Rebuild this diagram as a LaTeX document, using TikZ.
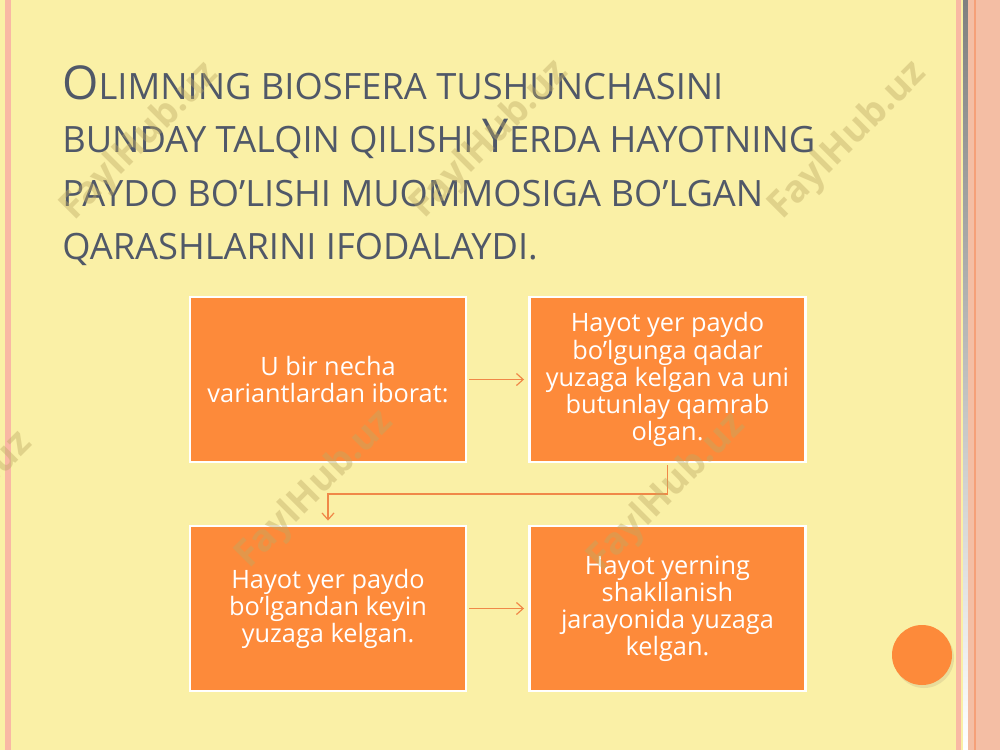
\documentclass[tikz,border=0pt]{standalone}
\usepackage{fontspec}
\setmainfont{Open Sans}
\usetikzlibrary{arrows.meta}
\definecolor{bgyellow}{RGB}{250,240,166}
\definecolor{boxorange}{RGB}{253,138,58}
\definecolor{arroworange}{RGB}{240,136,72}
\definecolor{titlecol}{RGB}{80,88,104}
\definecolor{pinkstripe}{RGB}{249,184,164}
\definecolor{salmon}{RGB}{244,190,164}
\definecolor{salmonline}{RGB}{245,160,120}
\definecolor{shade}{RGB}{236,218,160}
\definecolor{wmcol}{RGB}{190,170,100}
\tikzset{
  flowbox/.style={draw=white, line width=2.2pt, fill=boxorange, minimum width=207pt, minimum height=123.75pt, inner sep=0pt, text=white, align=center, font=\fontsize{19}{20.3}\selectfont},
  conn/.style={draw=arroworange, line width=0.9pt, -{Straight Barb[length=5pt,width=9pt,line width=0.9pt]}},
  titleline/.style={anchor=base west, inner sep=0pt, text=titlecol},
  wm/.style={rotate=45, text=wmcol, opacity=0.42, font=\bfseries\fontsize{28}{30}\selectfont, inner sep=0pt}
}
\newcommand{\bigC}[1]{{\fontsize{35}{40}\selectfont #1}}
\newcommand{\smC}[1]{{\fontsize{27.2}{32}\selectfont #1}}
\begin{document}
\begin{tikzpicture}[x=0.75pt,y=-0.75pt]
\useasboundingbox (0,0) rectangle (1000,750);
% background
\fill[bgyellow] (0,0) rectangle (1000,750);
\fill[pinkstripe] (5,0) rectangle (11,750);
\fill[pinkstripe] (956,0) rectangle (961,750);
\fill[shade] (963,0) rectangle (968,750);
\fill[salmon] (968,0) rectangle (1000,750);
\fill[salmonline] (973.5,0) rectangle (976,750);
% title
\node[titleline] (t1) at (62,99) {\bigC{O}\smC{LIMNING BIOSFERA TUSHUNCHASINI}};
\node[titleline] (t2) at (62,152) {\smC{BUNDAY TALQIN QILISHI }\bigC{Y}\smC{ERDA HAYOTNING}};
\node[titleline] (t3) at (62,206) {\smC{PAYDO BO’LISHI MUOMMOSIGA BO’LGAN}};
\node[titleline] (t4) at (62,259) {\smC{QARASHLARINI IFODALAYDI.}};
% boxes
\node[flowbox] (b1) at (328,379.5) {U bir necha\\variantlardan iborat:};
\node[flowbox] (b2) at (667.5,379.5) {Hayot yer paydo\\bo’lgunga qadar\\yuzaga kelgan va uni\\butunlay qamrab\\olgan.};
\node[flowbox] (b3) at (328,608.5) {Hayot yer paydo\\bo’lgandan keyin\\yuzaga kelgan.};
\node[flowbox] (b4) at (667.5,608.5) {Hayot yerning\\shakllanish\\jarayonida yuzaga\\kelgan.};
% connectors
\coordinate (c1) at (667.5,494);
\coordinate (c2) at (328,494);
\draw[conn] ([xshift=1.5pt]b1.east) -- ([xshift=-3pt]b2.west);
\draw[conn] ([yshift=-1.5pt]b2.south) -- (c1) -- (c2) -- ([yshift=3pt]b3.north);
\draw[conn] ([xshift=1.5pt]b3.east) -- ([xshift=-3pt]b4.west);
% circle
\fill[shade!85!black, opacity=0.35] (924,658) circle (30);
\fill[boxorange] (922,655) circle (30);
% watermarks
\node[wm] (w1) at (140,142) {FaylHub.uz};
\node[wm] (w2) at (490,140) {FaylHub.uz};
\node[wm] (w3) at (848,141) {FaylHub.uz};
\node[wm] (w4) at (-46,511) {FaylHub.uz};
\node[wm] (w5) at (315,490) {FaylHub.uz};
\node[wm] (w6) at (667,493) {FaylHub.uz};
\end{tikzpicture}
\end{document}
